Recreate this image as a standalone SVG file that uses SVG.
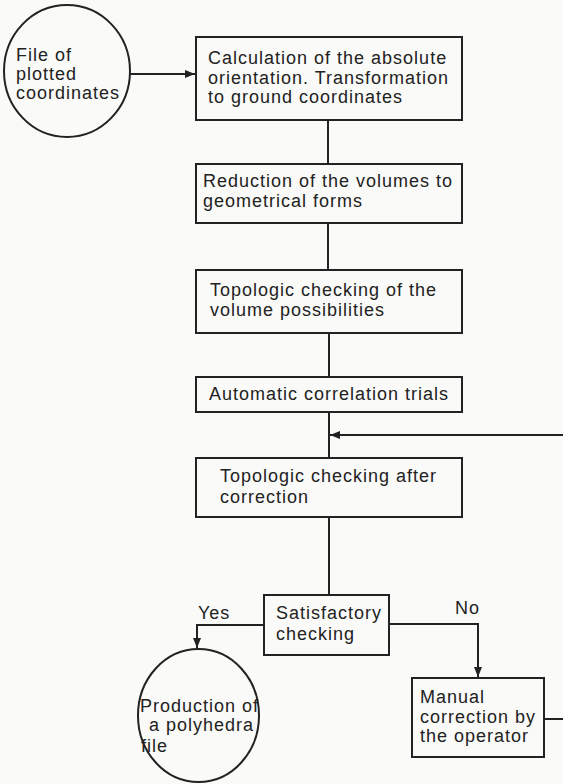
<svg xmlns="http://www.w3.org/2000/svg" width="563" height="784" viewBox="0 0 563 784">
<defs>
<marker id="ah" viewBox="0 0 10 8" refX="10" refY="4" markerWidth="10" markerHeight="8" markerUnits="userSpaceOnUse" orient="auto">
<path d="M0,0 L10,4 L0,8 Z" fill="#222"/>
</marker>
<style>
.n{fill:none;stroke:#222;stroke-width:2}
.c{fill:none;stroke:#222;stroke-width:2}
text{font-family:"Liberation Sans",Arial,Helvetica,sans-serif;font-size:18px;letter-spacing:1px;fill:#222}
</style>
</defs>
<rect x="0" y="0" width="563" height="784" fill="#fafaf8"/>
<g id="connectors">
<path class="c" d="M130,74 H195" marker-end="url(#ah)"/>
<path class="c" d="M328,120 V164"/>
<path class="c" d="M328,223 V270"/>
<path class="c" d="M329,333 V377"/>
<path class="c" d="M329,412 V458"/>
<path class="c" d="M329,517 V595"/>
<path class="c" d="M568,435 H330" marker-end="url(#ah)"/>
<path class="c" d="M544,719 H568 V435"/>
<path class="c" d="M264,625 H197 V648" marker-end="url(#ah)"/>
<path class="c" d="M389,624 H478 V677" marker-end="url(#ah)"/>
</g>
<g id="file-plotted">
<ellipse class="n" cx="67" cy="71" rx="63" ry="66"/>
<text x="16" y="61">File of</text>
<text x="16" y="80">plotted</text>
<text x="16" y="99">coordinates</text>
</g>
<g id="calc-orientation">
<rect class="n" x="196" y="37" width="266" height="83"/>
<text x="208" y="64">Calculation of the absolute</text>
<text x="208" y="84">orientation. Transformation</text>
<text x="208" y="103">to ground coordinates</text>
</g>
<g id="reduction">
<rect class="n" x="196" y="164" width="266" height="59"/>
<text x="203" y="187">Reduction of the volumes to</text>
<text x="203" y="207">geometrical forms</text>
</g>
<g id="topologic-check">
<rect class="n" x="196" y="270" width="266" height="63"/>
<text x="210" y="296">Topologic checking of the</text>
<text x="210" y="316">volume possibilities</text>
</g>
<g id="auto-correlation">
<rect class="n" x="196" y="377" width="266" height="35"/>
<text x="209" y="400">Automatic correlation trials</text>
</g>
<g id="topologic-after">
<rect class="n" x="196" y="458" width="266" height="59"/>
<text x="220" y="482">Topologic checking after</text>
<text x="220" y="503">correction</text>
</g>
<g id="satisfactory">
<rect class="n" x="264" y="595" width="125" height="60"/>
<text x="276" y="619">Satisfactory</text>
<text x="276" y="640">checking</text>
<text x="198" y="619">Yes</text>
<text x="455" y="614">No</text>
</g>
<g id="production">
<ellipse class="n" cx="198.5" cy="715.5" rx="60.5" ry="66.5"/>
<text x="140" y="712">Production of</text>
<text x="149" y="731">a polyhedra</text>
<text x="141" y="752">file</text>
</g>
<g id="manual-correction">
<rect class="n" x="412" y="678" width="132" height="79"/>
<text x="420" y="703">Manual</text>
<text x="420" y="723">correction by</text>
<text x="420" y="742">the operator</text>
</g>
</svg>
